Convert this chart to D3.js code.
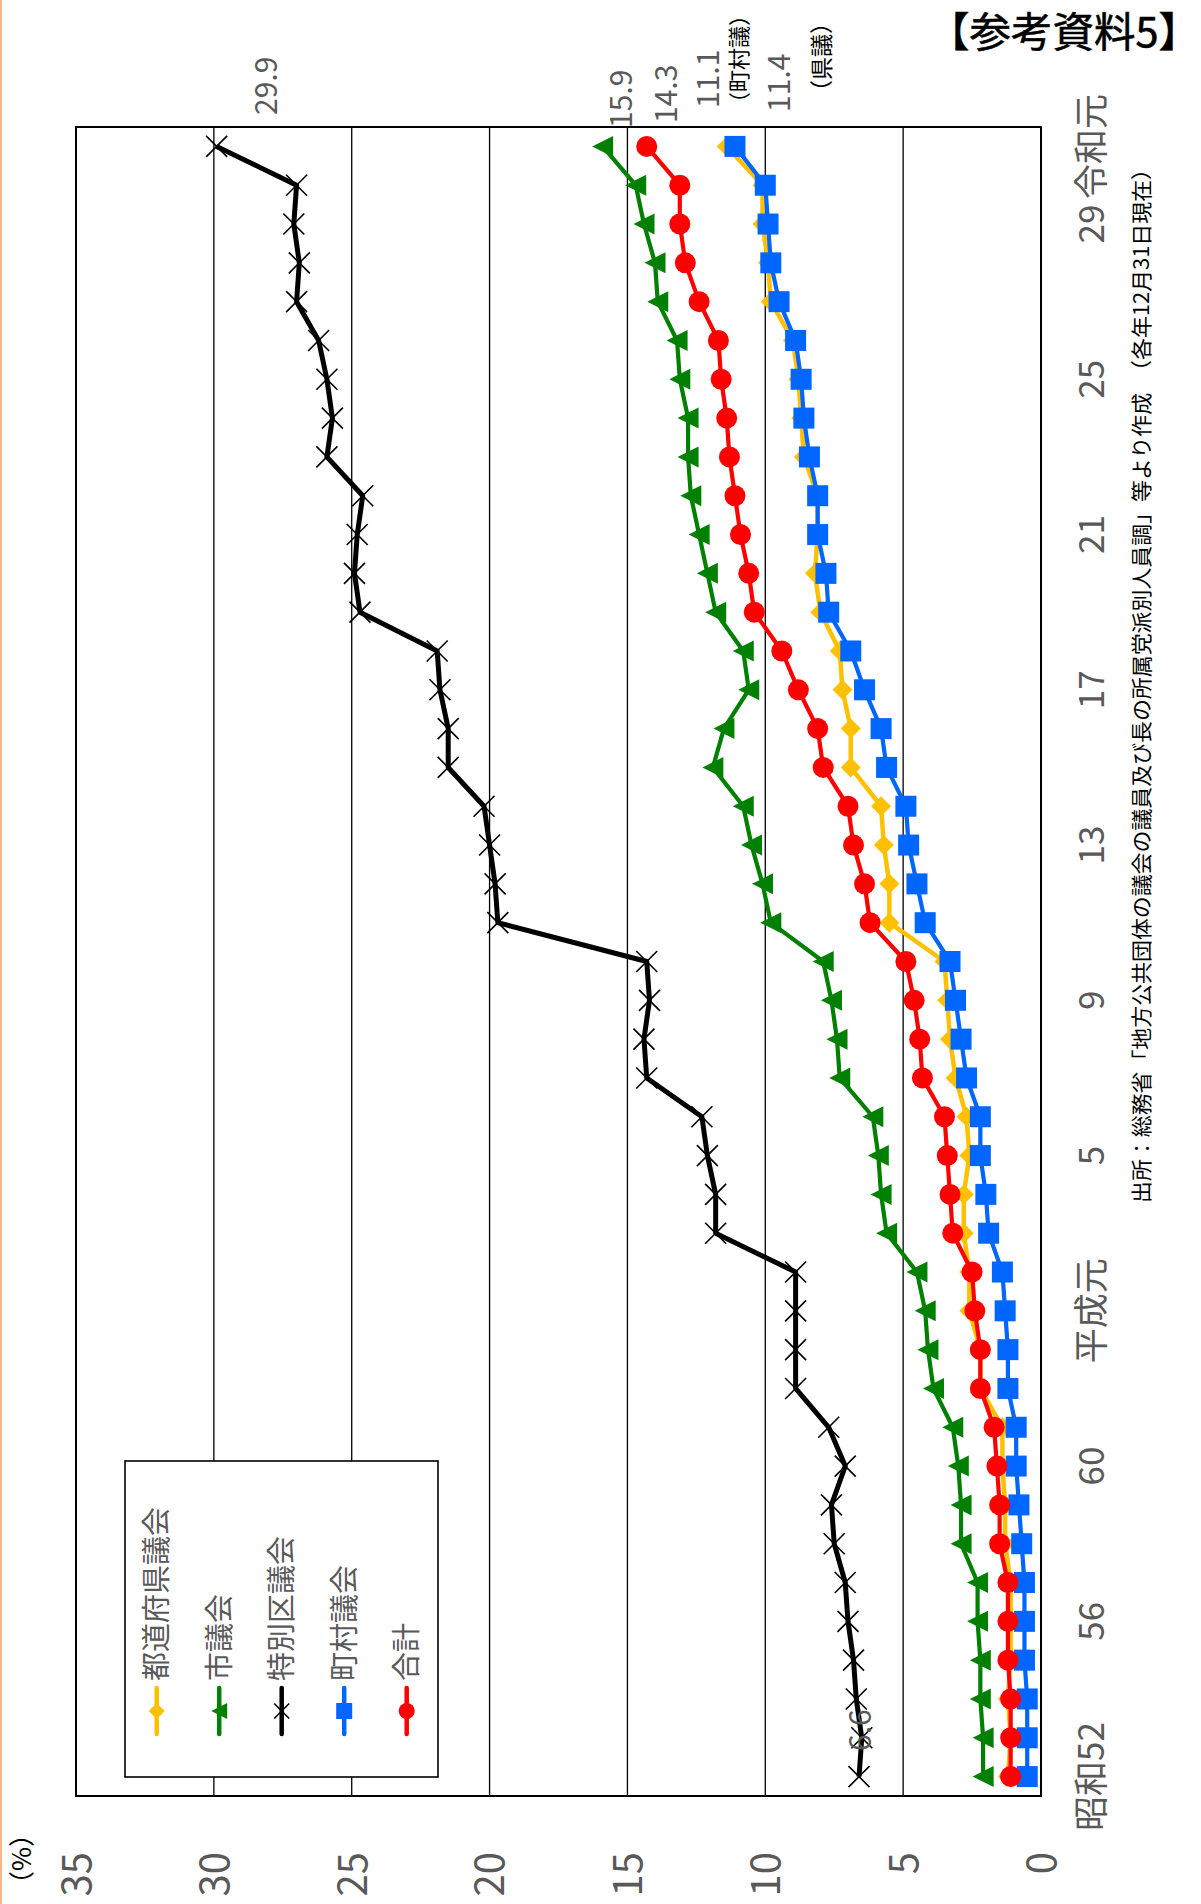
<!DOCTYPE html>
<html><head><meta charset="utf-8">
<script src="https://cdn.jsdelivr.net/npm/d3@7"></script>
<style>
body{margin:0;background:#fff}
svg{display:block}
text{font-family:"Noto Sans CJK JP","Noto Sans",sans-serif}
</style>
</head><body>
<svg id="c" width="1201" height="1904"></svg>
<script>
const categories = ['昭和52','昭和53','昭和54','昭和55','昭和56','昭和57','昭和58','昭和59','昭和60','昭和61','昭和62','昭和63',
  '平成元','平成2','平成3','平成4','平成5','平成6','平成7','平成8','平成9','平成10','平成11','平成12','平成13','平成14',
  '平成15','平成16','平成17','平成18','平成19','平成20','平成21','平成22','平成23','平成24','平成25','平成26','平成27',
  '平成28','平成29','平成30','令和元'];
const tickCategories = ['昭和52','昭和56','昭和60','平成元','平成5','平成9','平成13','平成17','平成21','平成25','平成29','令和元'];
const tickText = ['昭和52','56','60','平成元','5','9','13','17','21','25','29','令和元'];
const valueTicks = [0,5,10,15,20,25,30,35];

const prefectural = [1.2,1.1,1.2,1.1,1.1,1.1,1.3,1.3,1.4,1.4,2.2,2.2,2.6,2.6,2.8,2.8,2.6,2.7,3.1,3.3,3.4,3.5,5.5,5.5,5.7,5.8,6.9,6.9,7.2,7.3,8.0,8.2,8.1,8.1,8.6,8.7,8.8,9.0,9.8,9.9,10.1,10.1,11.4];
const city = [2.1,2.1,2.2,2.2,2.3,2.3,2.9,2.9,3.0,3.2,3.9,4.1,4.2,4.5,5.6,5.8,5.9,6.1,7.3,7.4,7.6,7.9,9.8,10.1,10.5,10.8,11.9,11.5,10.6,10.8,11.8,12.1,12.4,12.7,12.8,12.8,13.1,13.2,13.9,14.0,14.4,14.7,15.9];
const ward = [6.6,6.5,6.7,6.8,7.0,7.1,7.5,7.6,7.1,7.7,8.9,8.9,8.9,8.9,11.8,11.8,12.1,12.3,14.3,14.4,14.2,14.3,19.7,19.8,20.0,20.2,21.5,21.5,21.8,21.9,24.7,24.9,24.8,24.6,25.9,25.7,25.9,26.2,27.0,26.9,27.1,27.0,29.9];
const town = [0.5,0.5,0.5,0.6,0.6,0.6,0.7,0.8,0.9,0.9,1.2,1.2,1.3,1.4,1.9,2.0,2.2,2.2,2.7,2.9,3.1,3.3,4.2,4.5,4.8,4.9,5.6,5.8,6.4,6.9,7.7,7.8,8.1,8.1,8.4,8.6,8.7,8.9,9.5,9.8,9.9,10.0,11.1];
const total = [1.1,1.1,1.1,1.2,1.2,1.2,1.5,1.5,1.6,1.7,2.2,2.2,2.4,2.5,3.2,3.3,3.4,3.5,4.3,4.4,4.6,4.9,6.2,6.4,6.8,7.0,7.9,8.1,8.8,9.4,10.4,10.6,10.9,11.1,11.3,11.4,11.6,11.7,12.4,12.9,13.1,13.1,14.3];

const seriesNames = ['都道府県議会','市議会','特別区議会','町村議会','合計'];

const series = [
  {name: seriesNames[0], values: prefectural, color: '#FFC000', width: 4.5, marker: 'diamond'},
  {name: seriesNames[1], values: city, color: '#008000', width: 4.2, marker: 'triangle'},
  {name: seriesNames[2], values: ward, color: '#000000', width: 5, marker: 'x'},
  {name: seriesNames[3], values: town, color: '#0066FF', width: 4.2, marker: 'square'},
  {name: seriesNames[4], values: total, color: '#FF0000', width: 4.2, marker: 'circle'}
];

const svg = d3.select('#c');
const L = 76, R = 1041, T = 127, B = 1796;
const vx = d3.scaleLinear().domain([0,35]).range([R, L]);
const cy = d3.scaleBand().domain(categories).range([B, T]);
const bw = cy.bandwidth();
const ypos = k => cy(k) + bw/2;

// page edge line
svg.append('line').attr('x1',1).attr('x2',1).attr('y1',0).attr('y2',1904)
  .attr('stroke','#F4A46E').attr('stroke-width',1.6);

// gridlines
svg.append('g').selectAll('line').data(valueTicks.filter(t => t>0 && t<35)).join('line')
  .attr('x1', d => vx(d)).attr('x2', d => vx(d)).attr('y1', T).attr('y2', B)
  .attr('stroke','#000').attr('stroke-width',1.3);

svg.append('rect').attr('x',L).attr('y',T).attr('width',R-L).attr('height',B-T)
  .attr('fill','none').attr('stroke','#000').attr('stroke-width',2);

// value axis (bottom, rotated labels)
const ax = svg.append('g').attr('transform',`translate(0,${B})`)
  .call(d3.axisBottom(vx).tickValues(valueTicks).tickSize(0).tickFormat(d3.format('d')));
ax.select('.domain').remove();
ax.selectAll('text')
  .attr('x',0).attr('y',0).attr('dy','0.36em')
  .attr('transform','translate(0,56) rotate(-90)')
  .attr('text-anchor','end')
  .attr('fill','#595959').style('font-size','40px');

// category axis (right, rotated labels)
const ay = svg.append('g').attr('transform',`translate(${R},0)`)
  .call(d3.axisRight(cy).tickValues(tickCategories).tickSize(0)
    .tickFormat(d => tickText[tickCategories.indexOf(d)]));
ay.select('.domain').remove();
ay.selectAll('text')
  .attr('x',0).attr('y',0).attr('dy','0.36em')
  .attr('transform','translate(50,0) rotate(-90)')
  .attr('text-anchor','middle')
  .attr('fill','#595959').style('font-size','35px');

function drawMarker(g, type, x, y, s, color) {
  const h = s/2;
  if (type === 'diamond') {
    g.append('path').attr('d',`M${x-h},${y}L${x},${y-h}L${x+h},${y}L${x},${y+h}Z`).attr('fill',color);
  } else if (type === 'triangle') {
    g.append('path').attr('d',`M${x-h},${y}L${x+h},${y-h}L${x+h},${y+h}Z`).attr('fill',color);
  } else if (type === 'square') {
    g.append('rect').attr('x',x-h).attr('y',y-h).attr('width',s).attr('height',s).attr('fill',color);
  } else if (type === 'circle') {
    g.append('circle').attr('cx',x).attr('cy',y).attr('r',h).attr('fill',color);
  } else if (type === 'x') {
    g.append('path').attr('d',`M${x-h},${y-h}L${x+h},${y+h}M${x-h},${y+h}L${x+h},${y-h}`)
      .attr('stroke',color).attr('stroke-width',1.6).attr('fill','none');
  }
}

const line = d3.line().x(d => vx(d.v)).y(d => ypos(d.k));
series.forEach(s => {
  const pts = s.values.map((v,i) => ({k: categories[i], v}));
  const g = svg.append('g');
  g.append('path').datum(pts).attr('d', line)
    .attr('fill','none').attr('stroke', s.color).attr('stroke-width', s.width)
    .attr('stroke-linejoin','round');
  pts.forEach(p => drawMarker(g, s.marker, vx(p.v), ypos(p.k), s.marker === 'diamond' ? 20 : 21, s.color));
});

// data labels
function vlabel(txt, x, yStart, size, color) {
  svg.append('text').attr('transform',`translate(${x},${yStart}) rotate(-90)`)
    .attr('dy','0.36em').attr('text-anchor','start')
    .attr('fill',color).style('font-size',size+'px').text(txt);
}
vlabel(ward[42].toFixed(1), vx(ward[42]) + 50, 115, 30, '#595959');
vlabel(city[42].toFixed(1), vx(city[42]) + 19, 128, 30, '#595959');
vlabel(total[42].toFixed(1), vx(total[42]) + 19, 123, 30, '#595959');
vlabel(town[42].toFixed(1), vx(town[42]) - 27, 108, 30, '#595959');
vlabel('（町村議）', vx(town[42]) + 4, 114, 22, '#000');
vlabel(prefectural[42].toFixed(1), vx(prefectural[42]) + 53, 112, 30, '#595959');
vlabel('（県議）', vx(prefectural[42]) + 95, 103, 23, '#000');
vlabel(ward[0].toFixed(1), vx(ward[0]) + 1, 1751, 30, '#595959');

// legend
const lg = svg.append('g');
lg.append('rect').attr('x',125).attr('y',1461).attr('width',313).attr('height',316)
  .attr('fill','#fff').attr('stroke','#000').attr('stroke-width',1.6);
series.forEach((s,i) => {
  const x = 156.7 + i*62.5;
  lg.append('line').attr('x1',x).attr('x2',x).attr('y1',1688).attr('y2',1734)
    .attr('stroke',s.color).attr('stroke-width',4.5).attr('stroke-linecap','round');
  drawMarker(lg, s.marker, x, 1711, s.marker==='x' ? 15 : 16, s.color);
  lg.append('text').attr('transform',`translate(${x},1681) rotate(-90)`)
    .attr('dy','0.36em').attr('text-anchor','start')
    .attr('fill','#595959').style('font-size','29px').text(s.name);
});

// unit label
svg.append('text').attr('transform','translate(22,1897) rotate(-90)')
  .attr('dy','0.36em').attr('text-anchor','start').attr('fill','#000')
  .style('font-size','26px').text('（%）');

// title
svg.append('text').attr('x',928).attr('y',47).attr('text-anchor','start')
  .attr('textLength',272).attr('lengthAdjust','spacingAndGlyphs')
  .attr('fill','#000').attr('stroke','#000').attr('stroke-width',0.6)
  .style('font-size','41px').text('【参考資料5】');

// source
svg.append('text').attr('transform','translate(1141,1203) rotate(-90)')
  .attr('dy','0.36em').attr('text-anchor','start').attr('fill','#000')
  .attr('textLength',1045).attr('lengthAdjust','spacingAndGlyphs')
  .style('font-size','21px')
  .text('出所：総務省「地方公共団体の議会の議員及び長の所属党派別人員調」等より作成　（各年12月31日現在）');
</script>
</body></html>
